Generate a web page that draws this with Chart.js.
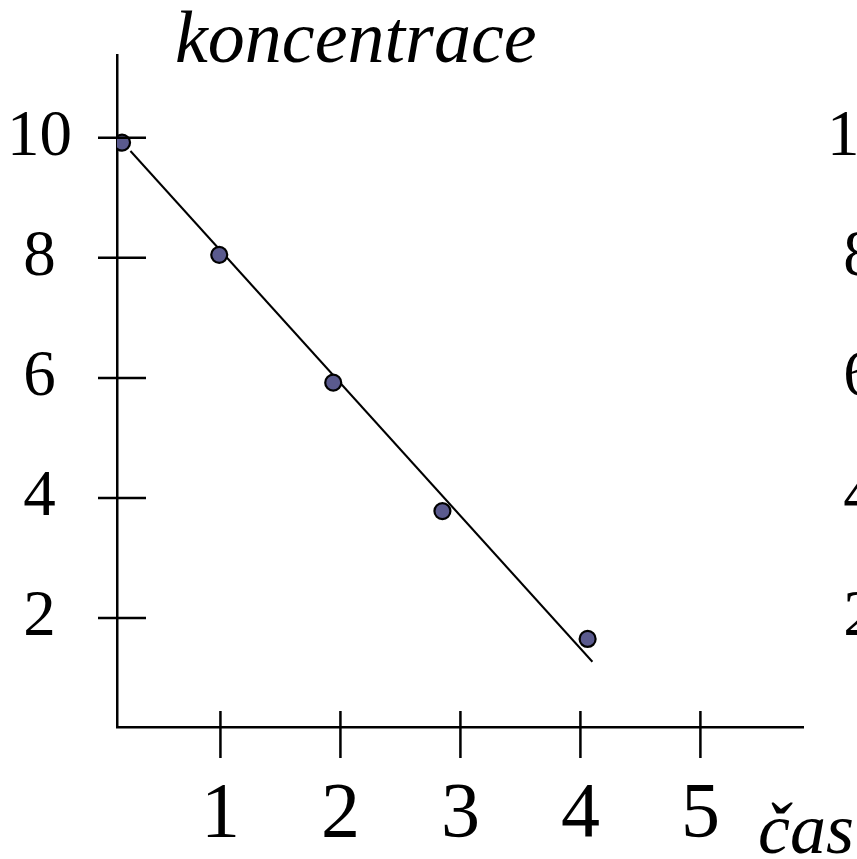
<!DOCTYPE html>
<html>
<head>
<meta charset="utf-8">
<script src="https://cdn.jsdelivr.net/npm/chart.js@4"></script>
<style>
  html, body { margin: 0; padding: 0; background: #fff; overflow: hidden; }
  #wrap { width: 857px; height: 859px; position: relative; }
</style>
</head>
<body>
<div id="wrap"><canvas id="c" width="857" height="859"></canvas></div>
<script>
// ---- data ----
const timeValues = [0.18, 0.99, 1.94, 2.85, 4.06];
const concValues = [9.92, 8.05, 5.92, 3.78, 1.65];
const fitTime = [0.25, 4.10];
const fitConc = [9.78, 1.27];
const xTickValues = [1, 2, 3, 4, 5];
const yTickValues = [2, 4, 6, 8, 10];
const yAxisTitle = 'koncentrace';
const xAxisTitle = 'čas';

const points = timeValues.map((t, i) => ({ x: t, y: concValues[i] }));
const fitLine = fitTime.map((t, i) => ({ x: t, y: fitConc[i] }));

const SERIF = "'Liberation Serif', 'Times New Roman', serif";

const keepTicks = (vals) => (scale) => {
  scale.ticks = vals.map(v => ({ value: v }));
};
const fixSize = (prop, val) => (s) => {
  s[prop] = val;
  s.paddingTop = 0; s.paddingBottom = 0; s.paddingLeft = 0; s.paddingRight = 0;
};

const crossTicks = {
  id: 'crossTicks',
  afterDraw(chart) {
    const ctx = chart.ctx;
    const xs = chart.scales.x, ys = chart.scales.y;
    ctx.save();
    ctx.strokeStyle = '#000';
    ctx.lineWidth = 2.5;
    ctx.beginPath();
    xs.ticks.forEach((t) => {
      const px = xs.getPixelForValue(t.value);
      ctx.moveTo(px, xs.top - 16);
      ctx.lineTo(px, xs.top + 31);
    });
    ys.ticks.forEach((t) => {
      const py = ys.getPixelForValue(t.value);
      ctx.moveTo(ys.right - 19, py);
      ctx.lineTo(ys.right + 29, py);
    });
    ctx.stroke();
    // axis titles
    ctx.fillStyle = '#000';
    ctx.textBaseline = 'alphabetic';
    ctx.textAlign = 'left';
    ctx.font = 'italic 74px ' + SERIF;
    ctx.fillText(yAxisTitle, 175, 62);
    ctx.font = 'italic 72px ' + SERIF;
    ctx.fillText(xAxisTitle, 758, 853);
    ctx.restore();
  }
};

new Chart(document.getElementById('c'), {
  type: 'scatter',
  data: {
    datasets: [
      {
        type: 'line',
        data: fitLine,
        borderColor: '#000',
        borderWidth: 2,
        pointRadius: 0,
        fill: false,
        order: 2
      },
      {
        data: points,
        backgroundColor: '#5a5a8e',
        borderColor: '#000',
        borderWidth: 2.2,
        pointRadius: 8,
        order: 1
      }
    ]
  },
  options: {
    responsive: false,
    animation: false,
    events: [],
    layout: { padding: { top: 55, left: 0, right: 0, bottom: 0 } },
    plugins: { legend: { display: false }, tooltip: { enabled: false } },
    scales: {
      x: {
        type: 'linear',
        min: 0.138,
        max: 5.855,
        afterBuildTicks: keepTicks(xTickValues),
        afterFit: fixSize('height', 132),
        border: { display: true, color: '#000', width: 2.5 },
        grid: { display: true, drawOnChartArea: false, drawTicks: false },
        ticks: {
          color: '#000',
          padding: 42,
          font: { family: SERIF, size: 78 },
          maxRotation: 0,
          autoSkip: false
        }
      },
      y: {
        type: 'linear',
        position: 'left',
        min: 0.183,
        max: 11.38,
        afterBuildTicks: keepTicks(yTickValues),
        afterFit: fixSize('width', 117),
        border: { display: true, color: '#000', width: 2.5 },
        grid: { display: true, drawOnChartArea: false, drawTicks: false },
        ticks: {
          color: '#000',
          padding: 45,
          crossAlign: 'center',
          font: { family: SERIF, size: 65 },
          autoSkip: false
        }
      },
      y2: {
        type: 'linear',
        position: 'right',
        min: 0.183,
        max: 11.38,
        afterBuildTicks: keepTicks(yTickValues),
        afterFit: fixSize('width', 54),
        border: { display: false },
        grid: { display: false, drawTicks: false },
        ticks: {
          color: '#000',
          padding: 24,
          crossAlign: 'center',
          font: { family: SERIF, size: 65 },
          autoSkip: false
        }
      }
    }
  },
  plugins: [crossTicks]
});
</script>
</body>
</html>
